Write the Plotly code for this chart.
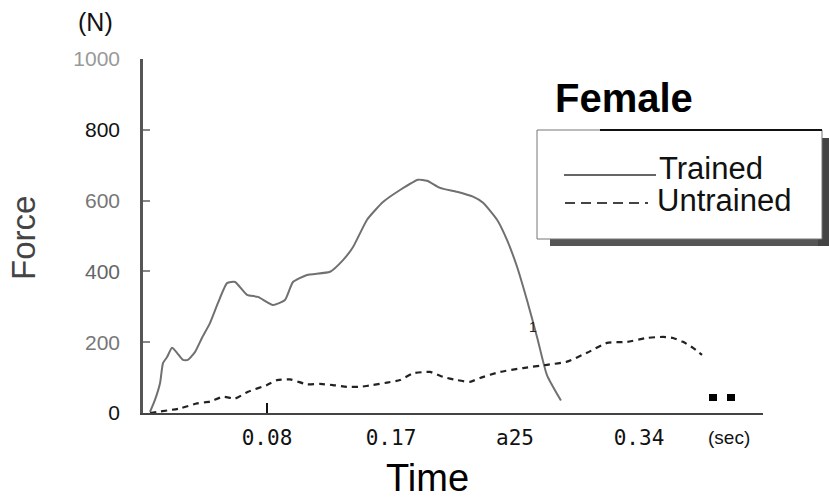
import plotly.graph_objects as go

# ---- data (time in s, force in N) ----
trained_t = [0.0048, 0.0082, 0.0117, 0.0137, 0.0165, 0.0199, 0.0233, 0.0274, 0.0308, 0.0356, 0.0404,
             0.0459, 0.0514, 0.0576, 0.0631, 0.0713, 0.0788, 0.0891, 0.0973, 0.1028, 0.1124,
             0.1282, 0.1371, 0.1440, 0.1536, 0.1645, 0.1762, 0.1885, 0.1947, 0.2036, 0.2152,
             0.2262, 0.2331, 0.2427, 0.2495, 0.2564, 0.2632, 0.2701, 0.2769, 0.2865]
trained_f = [3, 37, 85, 141, 158, 184, 170, 150, 150, 172, 212,
             254, 311, 367, 370, 334, 328, 305, 319, 370, 390,
             399, 432, 469, 546, 596, 630, 659, 656, 636, 625,
             611, 594, 546, 489, 413, 319, 215, 107, 35]

untrained_t = [0.0048, 0.0254, 0.0370, 0.0459, 0.0548, 0.0631, 0.0720, 0.0850, 0.0919, 0.1008,
               0.1124, 0.1213, 0.1302, 0.1398, 0.1487, 0.1577, 0.1673, 0.1762, 0.1851, 0.1967,
               0.2056, 0.2152, 0.2241, 0.2310, 0.2447, 0.2605, 0.2769, 0.2906, 0.3043, 0.3181,
               0.3318, 0.3455, 0.3565, 0.3633, 0.3702, 0.3770, 0.3832]
untrained_f = [0, 13, 27, 32, 46, 41, 60, 79, 93, 95,
               81, 82, 79, 74, 74, 79, 86, 93, 112, 116,
               102, 93, 88, 99, 116, 127, 136, 145, 170, 198,
               201, 212, 215, 212, 201, 184, 164]

y_ticks = [0, 200, 400, 600, 800, 1000]
y_tick_text = ["0", '<span style="color:#777">200</span>', '<span style="color:#666">400</span>',
               '<span style="color:#777">600</span>', "800", '<span style="color:#999">1000</span>']
x_ticks = [0.085, 0.17, 0.255, 0.34]
x_tick_text = ["0.08", "0.17", "a25", "0.34"]

series_names = ["Trained", "Untrained"]
title_text = "Female"

W, H = 829, 498
L, R, T, B = 143, 66, 59, 85


def pxx(x):
    return (x - L) / (W - L - R)


def pyy(y):
    return (H - B - y) / (H - T - B)


fig = go.Figure()
fig.add_trace(go.Scatter(x=trained_t, y=trained_f, mode="lines", name=series_names[0],
                         line=dict(color="#707070", width=2, shape="spline", smoothing=0.5)))
fig.add_trace(go.Scatter(x=untrained_t, y=untrained_f, mode="lines", name=series_names[1],
                         line=dict(color="#222222", width=2.2, dash="6px,5px",
                                   shape="spline", smoothing=0.5)))

font = "Liberation Sans, Arial, sans-serif"

fig.update_layout(
    width=W, height=H, autosize=False,
    margin=dict(l=L, r=R, t=T, b=B, pad=0),
    paper_bgcolor="white", plot_bgcolor="white",
    showlegend=False,
    font=dict(family=font, color="#111"),
    xaxis=dict(range=[0, 0.425], showgrid=False, zeroline=False,
               showline=True, linecolor="#444", linewidth=1.5,
               tickvals=x_ticks, ticktext=x_tick_text, ticks="",
               tickfont=dict(family="DejaVu Sans Mono, monospace", size=21, color="#111"),
               ticklabelstandoff=5),
    yaxis=dict(range=[0, 1000], showgrid=False, zeroline=False,
               showline=True, linecolor="#555", linewidth=2.5,
               tickvals=y_ticks, ticktext=y_tick_text, ticks="inside", ticklen=7,
               tickcolor="#888", tickwidth=1.5,
               tickfont=dict(family=font, size=21, color="#111"),
               ticklabelstandoff=16),
)

shapes = []
# single tick on x axis at 0.08
shapes.append(dict(type="line", xref="x", yref="paper", x0=x_ticks[0], x1=x_ticks[0],
                   y0=0, y1=10 / (H - T - B), line=dict(color="#111", width=2)))
# legend shadow
shapes.append(dict(type="rect", xref="paper", yref="paper",
                   x0=pxx(550), x1=pxx(829), y0=pyy(246), y1=pyy(236),
                   fillcolor="#555", line=dict(width=0), layer="above"))
shapes.append(dict(type="rect", xref="paper", yref="paper",
                   x0=pxx(818), x1=pxx(829), y0=pyy(246), y1=pyy(138),
                   fillcolor="#444", line=dict(width=0), layer="above"))
# legend box
shapes.append(dict(type="rect", xref="paper", yref="paper",
                   x0=pxx(537), x1=pxx(822), y0=pyy(239), y1=pyy(130),
                   fillcolor="white", line=dict(color="#777", width=1), layer="above"))
shapes.append(dict(type="line", xref="paper", yref="paper",
                   x0=pxx(600), x1=pxx(822), y0=pyy(130), y1=pyy(130),
                   line=dict(color="#111", width=2), layer="above"))
# legend samples
shapes.append(dict(type="line", xref="paper", yref="paper",
                   x0=pxx(564), x1=pxx(656), y0=pyy(175), y1=pyy(175),
                   line=dict(color="#666", width=2), layer="above"))
shapes.append(dict(type="line", xref="paper", yref="paper",
                   x0=pxx(565), x1=pxx(648), y0=pyy(203), y1=pyy(203),
                   line=dict(color="#444", width=2, dash="10px,6px"), layer="above"))
# small black squares near the axis end
for x0 in (709, 727):
    shapes.append(dict(type="rect", xref="paper", yref="paper",
                       x0=pxx(x0), x1=pxx(x0 + 8), y0=pyy(401), y1=pyy(394),
                       fillcolor="#000", line=dict(width=0)))
fig.update_layout(shapes=shapes)

ann = []
ann.append(dict(text=title_text, xref="paper", yref="paper", x=pxx(553), y=pyy(98),
                xanchor="left", yanchor="middle", showarrow=False,
                font=dict(family=font, size=40, color="#000", weight="bold")))
ann.append(dict(text=series_names[0], xref="paper", yref="paper", x=pxx(657), y=pyy(168),
                xanchor="left", yanchor="middle", showarrow=False,
                font=dict(family=font, size=31, color="#111")))
ann.append(dict(text=series_names[1], xref="paper", yref="paper", x=pxx(655), y=pyy(200),
                xanchor="left", yanchor="middle", showarrow=False,
                font=dict(family=font, size=31, color="#111")))
ann.append(dict(text="(N)", xref="paper", yref="paper", x=pxx(95), y=pyy(22),
                xanchor="center", yanchor="middle", showarrow=False,
                font=dict(family=font, size=25, color="#111")))
ann.append(dict(text="Force", xref="paper", yref="paper", x=pxx(23), y=pyy(238),
                xanchor="center", yanchor="middle", showarrow=False, textangle=-90,
                font=dict(family=font, size=33, color="#444")))
ann.append(dict(text="Time", xref="paper", yref="paper", x=pxx(427), y=pyy(478),
                xanchor="center", yanchor="middle", showarrow=False,
                font=dict(family=font, size=38, color="#000")))
ann.append(dict(text="(sec)", xref="paper", yref="paper", x=pxx(729), y=pyy(437),
                xanchor="center", yanchor="middle", showarrow=False,
                font=dict(family=font, size=19, color="#111")))
ann.append(dict(text="1", xref="paper", yref="paper", x=pxx(533), y=pyy(327),
                xanchor="center", yanchor="middle", showarrow=False,
                font=dict(family=font, size=14, color="#222")))
fig.update_layout(annotations=ann)

fig.write_html("out.html", config={"displayModeBar": False},
               post_script="document.body.style.margin='0';document.body.style.overflow='hidden';")
